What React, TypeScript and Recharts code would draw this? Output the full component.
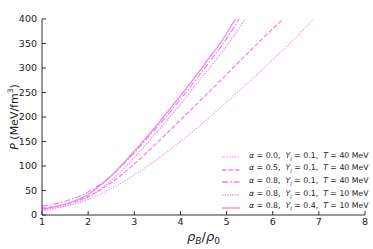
import React from 'react';
import { LineChart, Line, XAxis, YAxis, Legend, Label } from 'recharts';

const COLOR = '#EE82EE';
const FONT = '"DejaVu Sans", sans-serif';

const xTicks = [1, 2, 3, 4, 5, 6, 7, 8];
const yTicks = [0, 50, 100, 150, 200, 250, 300, 350, 400];

// alpha = 0.0, Yl = 0.1, T = 40 MeV
const rhoA = [1, 1.5, 2, 2.5, 3, 3.5, 4, 4.5, 5, 5.5, 6, 6.5, 6.88];
const pA = [10, 18, 32, 54, 82, 114, 150, 189, 230, 273, 317, 362, 400];
// alpha = 0.5, Yl = 0.1, T = 40 MeV
const rhoB = [1, 1.5, 2, 2.5, 3, 3.5, 4, 4.5, 5, 5.5, 6, 6.23];
const pB = [14, 22, 38, 66, 104, 148, 194, 240, 287, 334, 380, 400];
// alpha = 0.8, Yl = 0.1, T = 40 MeV
const rhoC = [1, 1.5, 2, 2.5, 3, 3.5, 4, 4.5, 5, 5.27];
const pC = [18, 28, 47, 80, 127, 180, 236, 297, 360, 400];
// alpha = 0.8, Yl = 0.1, T = 10 MeV
const rhoD = [1, 1.5, 2, 2.5, 3, 3.5, 4, 4.5, 5, 5.4];
const pD = [10, 18, 36, 70, 117, 170, 226, 285, 345, 400];
// alpha = 0.8, Yl = 0.4, T = 10 MeV
const rhoE = [1, 1.5, 2, 2.5, 3, 3.5, 4, 4.5, 5, 5.19];
const pE = [12, 22, 42, 80, 130, 185, 243, 305, 370, 400];

const alphas = ['0.0', '0.5', '0.8', '0.8', '0.8'];
const yls = ['0.1', '0.1', '0.1', '0.1', '0.4'];
const temps = ['40', '40', '40', '10', '10'];
const dashes = ['1 1.6', '4.5 2', '6 2 1.5 2', '1.3 1.3', undefined];

const build = (xs: number[], ps: number[]) => xs.map((x, i) => ({ x, p: ps[i] }));
const seriesData = [build(rhoA, pA), build(rhoB, pB), build(rhoC, pC), build(rhoD, pD), build(rhoE, pE)];

const LegendContent = () => (
  <div style={{ fontFamily: FONT, fontSize: 7.8, color: '#222', lineHeight: '12.6px' }}>
    {alphas.map((a, i) => (
      <div key={i} style={{ display: 'flex', alignItems: 'center', whiteSpace: 'nowrap', height: 12.6 }}>
        <svg width={23} height={8} style={{ marginRight: 4 }}>
          <line x1={0} y1={4} x2={18} y2={4} stroke={COLOR} strokeWidth={1.3} strokeDasharray={dashes[i]} />
        </svg>
        <span>
          <i>α</i> = {a},&nbsp; <i>Y</i>
          <sub style={{ fontSize: 5.5, fontStyle: 'italic' }}>l</sub> = {yls[i]},&nbsp; <i>T</i> = {temps[i]} MeV
        </span>
      </div>
    ))}
  </div>
);

export default function App() {
  return (
    <div style={{ position: 'absolute', left: 0, top: 0, width: 373, height: 249, background: '#fff' }}>
      <LineChart width={373} height={249} margin={{ top: 19, right: 8, bottom: 14, left: 0 }}>
        <XAxis
          xAxisId="b"
          dataKey="x"
          type="number"
          domain={[1, 8]}
          ticks={xTicks}
          allowDataOverflow
          orientation="bottom"
          height={20}
          tickSize={-4}
          tickMargin={7}
          stroke="#333"
          tick={{ fill: '#222', fontSize: 9.5, fontFamily: FONT }}
        >
          <Label
            content={() => (
              <text x={203.5} y={241} textAnchor="middle" fontFamily={FONT} fontSize={13} fill="#222">
                <tspan fontStyle="italic">ρ</tspan>
                <tspan fontStyle="italic" fontSize={9} dy={2.5}>B</tspan>
                <tspan dy={-2.5}>/</tspan>
                <tspan fontStyle="italic">ρ</tspan>
                <tspan fontSize={9} dy={2.5}>0</tspan>
              </text>
            )}
          />
        </XAxis>
        <XAxis
          xAxisId="t"
          dataKey="x"
          type="number"
          domain={[1, 8]}
          ticks={xTicks}
          allowDataOverflow
          orientation="top"
          height={0}
          tickSize={-4}
          tick={false}
          stroke="#333"
        >
          <Label
            content={() => (
              <text x={203.5} y={13} textAnchor="middle" fontFamily={FONT} fontSize={10.5} fill="#222">
                <tspan>2f NJL model, </tspan>
                <tspan fontStyle="italic">Y</tspan>
                <tspan fontStyle="italic" fontSize={7.5} dy={2}>l</tspan>
                <tspan dy={-2}> ≠ 0</tspan>
              </text>
            )}
          />
        </XAxis>
        <YAxis
          yAxisId="l"
          type="number"
          domain={[0, 400]}
          ticks={yTicks}
          allowDataOverflow
          orientation="left"
          width={42}
          tickSize={-4}
          tickMargin={9}
          stroke="#333"
          tick={{ fill: '#222', fontSize: 9.5, fontFamily: FONT }}
        >
          <Label
            content={() => (
              <text
                x={14}
                y={117}
                transform="rotate(-90 14 117)"
                textAnchor="middle"
                dominantBaseline="central"
                fontFamily={FONT}
                fontSize={11}
                fill="#222"
              >
                <tspan fontStyle="italic">P</tspan>
                <tspan> (MeV/fm</tspan>
                <tspan fontSize={7.5} dy={-4}>3</tspan>
                <tspan dy={4}>)</tspan>
              </text>
            )}
          />
        </YAxis>
        <YAxis
          yAxisId="r"
          type="number"
          domain={[0, 400]}
          ticks={yTicks}
          allowDataOverflow
          orientation="right"
          width={0}
          tickSize={-4}
          tick={false}
          stroke="#333"
        />
        {seriesData.map((d, i) => (
          <Line
            key={i}
            data={d}
            xAxisId="b"
            yAxisId="l"
            dataKey="p"
            type="monotone"
            stroke={COLOR}
            strokeWidth={1.2}
            strokeDasharray={dashes[i]}
            dot={false}
            activeDot={false}
            isAnimationActive={false}
          />
        ))}
        <Legend
          layout="horizontal"
          verticalAlign="middle"
          align="center"
          content={LegendContent}
          wrapperStyle={{ left: 222, top: 151, width: 'auto' }}
        />
      </LineChart>
    </div>
  );
}
